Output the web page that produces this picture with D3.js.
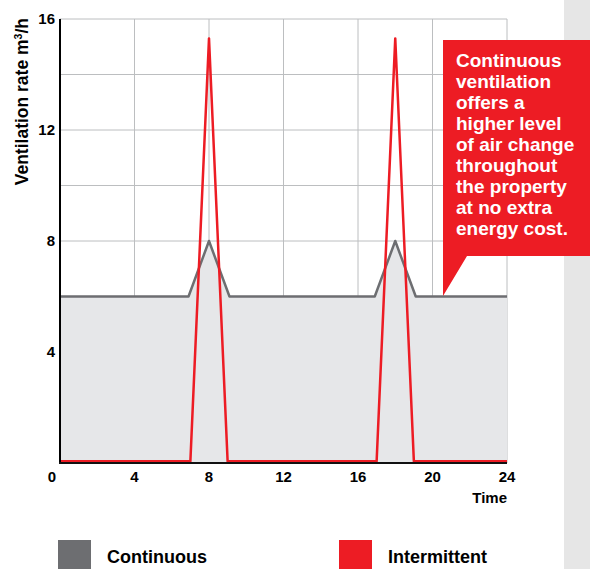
<!DOCTYPE html>
<html>
<head>
<meta charset="utf-8">
<script src="https://cdn.jsdelivr.net/npm/d3@7"></script>
<style>
  body { margin: 0; background: #fff; }
  svg { display: block; font-family: 'Liberation Sans', Arial, sans-serif; font-weight: bold; }
</style>
</head>
<body>
<div id="chart"></div>
<script>
// data
const contHours = [0, 6.9, 8, 9.1, 16.9, 18, 19.1, 24];
const contValues = [6, 6, 8, 6, 6, 8, 6, 6];
const interHours = [0, 7.0, 8, 9.0, 17.0, 18, 19.0, 24];
const interValues = [0.06, 0.06, 15.3, 0.06, 0.06, 15.3, 0.06, 0.06];
const xTicks = [0, 4, 8, 12, 16, 20, 24];
const yTicks = [4, 8, 12, 16];
const yGrid = [2, 4, 6, 8, 10, 12, 14, 16];
const seriesNames = ['Continuous', 'Intermittent'];
const calloutLines = ['Continuous', 'ventilation', 'offers a', 'higher level', 'of air change',
  'throughout', 'the property', 'at no extra', 'energy cost.'];

const GREY = '#6d6e71';
const RED = '#ed1c24';
const FILL = '#e6e7e9';
const GRID = '#bcbec0';

const width = 590;
const height = 569;
const MARGIN_LEFT = 60;
const MARGIN_TOP = 19;
const PLOT_W = 447;
const PLOT_H = 444;

const $svg = d3.select('#chart').append('svg')
  .attr('width', width)
  .attr('height', height);

// sidebar strip
$svg.append('rect')
  .attr('x', 564).attr('y', 0)
  .attr('width', 26).attr('height', height)
  .attr('fill', '#e6e6e6');

const scaleX = d3.scaleLinear().domain([0, 24]).range([MARGIN_LEFT, MARGIN_LEFT + PLOT_W]);
const scaleY = d3.scaleLinear().domain([0, 16]).range([MARGIN_TOP + PLOT_H, MARGIN_TOP]);

// grid
const $grid = $svg.append('g').attr('class', 'g-grid');
$grid.selectAll('.hline').data(yGrid).join('line')
  .attr('x1', scaleX(0)).attr('x2', scaleX(24))
  .attr('y1', (d) => scaleY(d)).attr('y2', (d) => scaleY(d))
  .attr('stroke', GRID).attr('stroke-width', 1);
$grid.selectAll('.vline').data(xTicks.slice(1)).join('line')
  .attr('x1', (d) => scaleX(d)).attr('x2', (d) => scaleX(d))
  .attr('y1', scaleY(0)).attr('y2', scaleY(16))
  .attr('stroke', GRID).attr('stroke-width', 1);

// continuous
const contData = contHours.map((h, i) => ({ h, v: contValues[i] }));
const interData = interHours.map((h, i) => ({ h, v: interValues[i] }));

$svg.append('path')
  .datum(contData)
  .attr('fill', FILL)
  .attr('d', d3.area().x((d) => scaleX(d.h)).y0(scaleY(0)).y1((d) => scaleY(d.v)));

$svg.append('path')
  .datum(contData)
  .attr('fill', 'none')
  .attr('stroke', GREY)
  .attr('stroke-width', 2.5)
  .attr('stroke-linejoin', 'round')
  .attr('d', d3.line().x((d) => scaleX(d.h)).y((d) => scaleY(d.v)));

// intermittent
$svg.append('path')
  .datum(interData)
  .attr('fill', 'none')
  .attr('stroke', RED)
  .attr('stroke-width', 2.5)
  .attr('stroke-linejoin', 'round')
  .attr('d', d3.line().x((d) => scaleX(d.h)).y((d) => scaleY(d.v)));

// axes lines
$svg.append('line')
  .attr('x1', scaleX(0)).attr('x2', scaleX(0))
  .attr('y1', scaleY(16)).attr('y2', scaleY(0) + 1)
  .attr('stroke', '#000').attr('stroke-width', 2);
$svg.append('line')
  .attr('x1', scaleX(0) - 1).attr('x2', scaleX(24))
  .attr('y1', scaleY(0)).attr('y2', scaleY(0))
  .attr('stroke', '#111').attr('stroke-width', 2);

// tick labels
$svg.append('g').selectAll('text').data(yTicks).join('text')
  .attr('x', 55)
  .attr('y', (d) => scaleY(d))
  .attr('dy', '0.36em')
  .attr('text-anchor', 'end')
  .attr('font-size', 15)
  .text((d) => d);

$svg.append('g').selectAll('text').data(xTicks).join('text')
  .attr('x', (d) => (d === 0 ? scaleX(d) - 8 : scaleX(d)))
  .attr('y', 482)
  .attr('text-anchor', 'middle')
  .attr('font-size', 15)
  .text((d) => d);

$svg.append('text')
  .attr('x', scaleX(24))
  .attr('y', 503)
  .attr('text-anchor', 'end')
  .attr('font-size', 15)
  .text('Time');

// y axis title
const $ytitle = $svg.append('text')
  .attr('transform', 'translate(28, 18) rotate(-90)')
  .attr('text-anchor', 'end')
  .attr('font-size', 17.5);
$ytitle.append('tspan').text('Ventilation rate m');
$ytitle.append('tspan').attr('font-size', 10.5).attr('dy', -6).text('3');
$ytitle.append('tspan').attr('dy', 6).text('/h');

// callout
$svg.append('path')
  .attr('d', 'M443,40 L590,40 L590,256 L467,256 L443,296 Z')
  .attr('fill', RED);
$svg.append('g').selectAll('text').data(calloutLines).join('text')
  .attr('x', 456)
  .attr('y', (d, i) => 67 + i * 21)
  .attr('fill', '#fff')
  .attr('font-size', 19)
  .text((d) => d);

// legend
const legendX = [58, 339];
const legendColors = [GREY, RED];
const $legend = $svg.append('g').selectAll('g').data(seriesNames).join('g')
  .attr('transform', (d, i) => `translate(${legendX[i]}, 540)`);
$legend.append('rect')
  .attr('width', 33).attr('height', 33)
  .attr('fill', (d, i) => legendColors[i]);
$legend.append('text')
  .attr('x', 49).attr('y', 23)
  .attr('font-size', 18)
  .text((d) => d);
</script>
</body>
</html>
